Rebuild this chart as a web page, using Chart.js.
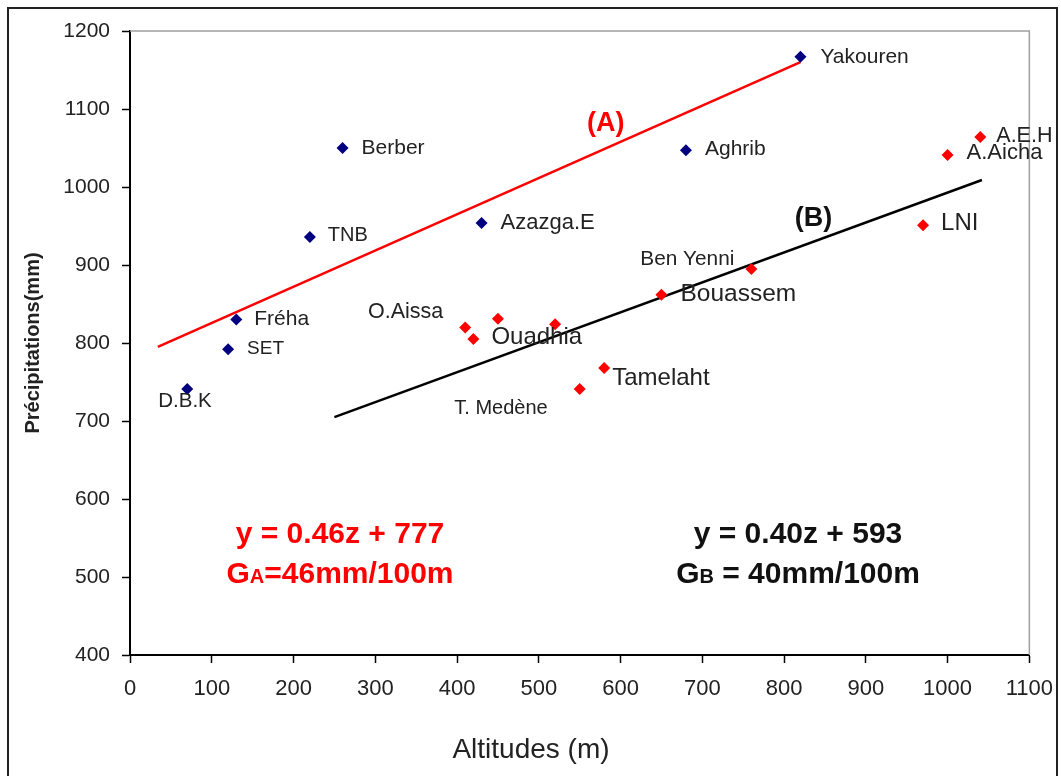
<!DOCTYPE html>
<html><head><meta charset="utf-8">
<script src="https://cdn.jsdelivr.net/npm/chart.js@4"></script>
<style>html,body{margin:0;padding:0;background:#fff;}canvas{display:block;}</style>
</head><body>
<canvas id="c" width="1061" height="776"></canvas>
<script>
// ---- data ----
const namesBlue = ['Yakouren','Berber','Aghrib','Azazga.E','TNB','Fréha','SET','D.B.K'];
const altBlue   = [820, 260, 680, 430, 220, 130, 120, 70];
const precBlue  = [1167, 1050, 1047, 954, 936, 830, 792, 741];

const namesRed = ['A.E.H','A.Aicha','LNI','Ben Yenni','Bouassem','O.Aissa','Ouadhia','','','Tamelaht','T. Medène'];
const altRed   = [1040, 1000, 970, 760, 650, 410, 420, 450, 520, 580, 550];
const precRed  = [1064, 1041, 951, 895, 862, 820, 805, 831, 824, 768, 741];

const lineAAlt  = [34, 820];
const lineAPrec = [795, 1160];
const lineBAlt  = [250, 1042];
const lineBPrec = [705, 1009];

const xTicks = [0,100,200,300,400,500,600,700,800,900,1000,1100];
const yTicks = [400,500,600,700,800,900,1000,1100,1200];

const eqA = ['y = 0.46z + 777', 'G', 'A', '=46mm/100m'];
const eqB = ['y = 0.40z + 593', 'G', 'B', ' = 40mm/100m'];
const xTitle = 'Altitudes (m)';
const yTitle = 'Précipitations(mm)';

// ---- label styles (pixel offsets, sizes) ----
const labelStyle = {
  'Yakouren':{dx:20,dy:0,s:21}, 'Berber':{dx:19,dy:0,s:21}, 'Aghrib':{dx:19,dy:-1,s:21},
  'Azazga.E':{dx:19,dy:0,s:22}, 'TNB':{dx:18,dy:-1,s:20}, 'Fréha':{dx:18,dy:0,s:21},
  'SET':{dx:19,dy:0,s:19}, 'D.B.K':{dx:-29,dy:12,s:20.5},
  'A.E.H':{dx:16,dy:-1,s:21.5}, 'A.Aicha':{dx:19,dy:-2,s:22}, 'LNI':{dx:18,dy:-2,s:24},
  'Ben Yenni':{dx:-17,dy:-10,s:20.8,right:true}, 'Bouassem':{dx:19,dy:0,s:24.5},
  'O.Aissa':{dx:-22,dy:-15,s:21.5,right:true}, 'Ouadhia':{dx:18,dy:-2,s:24},
  'Tamelaht':{dx:8,dy:10,s:24}, 'T. Medène':{dx:-32,dy:19,s:20,right:true}
};

const FONT = '"Liberation Sans", Arial, sans-serif';
const toPts = (xs, ys) => xs.map((x,i)=>({x, y: ys[i]}));

const textPlugin = {
  id:'textPlugin',
  beforeDraw(chart){
    const c = chart.ctx;
    c.save();
    c.fillStyle = '#fff';
    c.fillRect(0,0,chart.width,chart.height);
    c.strokeStyle = '#222';
    c.lineWidth = 2;
    c.strokeRect(8,8,1049,800);
    c.restore();
  },
  afterDraw(chart){
    const c = chart.ctx, xs = chart.scales.x, ys = chart.scales.y, a = chart.chartArea;
    c.save();
    // gray top & right frame
    c.strokeStyle = '#a0a0a0'; c.lineWidth = 1.5;
    c.beginPath(); c.moveTo(a.left, a.top); c.lineTo(a.right, a.top); c.lineTo(a.right, a.bottom); c.stroke();
    // point labels
    c.textBaseline = 'middle';
    const drawLabels = (names, xv, yv) => {
      names.forEach((n,i)=>{
        if(!n) return;
        const st = labelStyle[n];
        const px = xs.getPixelForValue(xv[i]), py = ys.getPixelForValue(yv[i]);
        c.font = st.s + 'px ' + FONT;
        c.fillStyle = '#222';
        c.textAlign = st.right ? 'right' : 'left';
        c.fillText(n, px + st.dx, py + st.dy);
      });
    };
    drawLabels(namesBlue, altBlue, precBlue);
    drawLabels(namesRed, altRed, precRed);
    // line tags
    c.textAlign = 'center';
    c.font = 'bold 27px ' + FONT;
    c.fillStyle = '#ff0000';
    c.fillText('(A)', xs.getPixelForValue(582), ys.getPixelForValue(1081));
    c.fillStyle = '#111';
    c.fillText('(B)', xs.getPixelForValue(836), ys.getPixelForValue(960));
    // equations
    const drawEq = (eq, cx, color) => {
      c.fillStyle = color;
      c.textBaseline = 'alphabetic';
      c.textAlign = 'center';
      c.font = 'bold 30px ' + FONT;
      c.fillText(eq[0], cx, 543);
      const big = 'bold 30px ' + FONT, small = 'bold 20px ' + FONT;
      c.font = big; const w1 = c.measureText(eq[1]).width, w3 = c.measureText(eq[3]).width;
      c.font = small; const w2 = c.measureText(eq[2]).width;
      let x = cx - (w1+w2+w3)/2;
      c.textAlign = 'left';
      c.font = big; c.fillText(eq[1], x, 583); x += w1;
      c.font = small; c.fillText(eq[2], x, 583); x += w2;
      c.font = big; c.fillText(eq[3], x, 583);
    };
    drawEq(eqA, 340, '#ff0000');
    drawEq(eqB, 798, '#111');
    // axis titles
    c.fillStyle = '#222';
    c.textAlign = 'center'; c.textBaseline = 'middle';
    c.font = '28px ' + FONT;
    c.fillText(xTitle, 531, 750);
    c.translate(33, 343); c.rotate(-Math.PI/2);
    c.font = 'bold 20px ' + FONT;
    c.fillText(yTitle, 0, 0);
    c.restore();
  }
};

new Chart(document.getElementById('c'), {
  type:'scatter',
  data:{datasets:[
    {label:'A', data: toPts(altBlue, precBlue), pointStyle:'rectRot', pointRadius:6, pointBorderWidth:0,
     backgroundColor:'#000080', borderColor:'#000080'},
    {label:'B', data: toPts(altRed, precRed), pointStyle:'rectRot', pointRadius:6, pointBorderWidth:0,
     backgroundColor:'#ff0000', borderColor:'#ff0000'},
    {label:'(A)', data: toPts(lineAAlt, lineAPrec), showLine:true, pointRadius:0, borderColor:'#ff0000', borderWidth:2.5, fill:false},
    {label:'(B)', data: toPts(lineBAlt, lineBPrec), showLine:true, pointRadius:0, borderColor:'#000', borderWidth:2.5, fill:false}
  ]},
  options:{
    responsive:false, animation:false,
    layout:{padding:{top:31,right:31,left:0,bottom:0}},
    plugins:{legend:{display:false}, tooltip:{enabled:false}},
    scales:{
      x:{type:'linear', min:0, max:1100,
         afterFit(s){ s.height = 121; },
         afterBuildTicks(s){ s.ticks = xTicks.map(v=>({value:v})); },
         ticks:{font:{family:FONT,size:22,lineHeight:1.6}, color:'#222', padding:8, maxRotation:0, autoSkip:false,
                callback:(v)=>String(v)},
         grid:{display:true, drawOnChartArea:false, drawTicks:true, tickLength:8, color:'#000', tickColor:'#000', tickWidth:1.5},
         border:{display:true, color:'#000', width:2}},
      y:{type:'linear', min:400, max:1200,
         afterFit(s){ s.width = 130; },
         afterBuildTicks(s){ s.ticks = yTicks.map(v=>({value:v})); },
         ticks:{font:{family:FONT,size:21}, color:'#222', padding:12, autoSkip:false,
                callback:(v)=>String(v)},
         grid:{display:true, drawOnChartArea:false, drawTicks:true, tickLength:8, color:'#000', tickColor:'#000', tickWidth:1.5},
         border:{display:true, color:'#000', width:2}}
    }
  },
  plugins:[textPlugin]
});
</script>
</body></html>
